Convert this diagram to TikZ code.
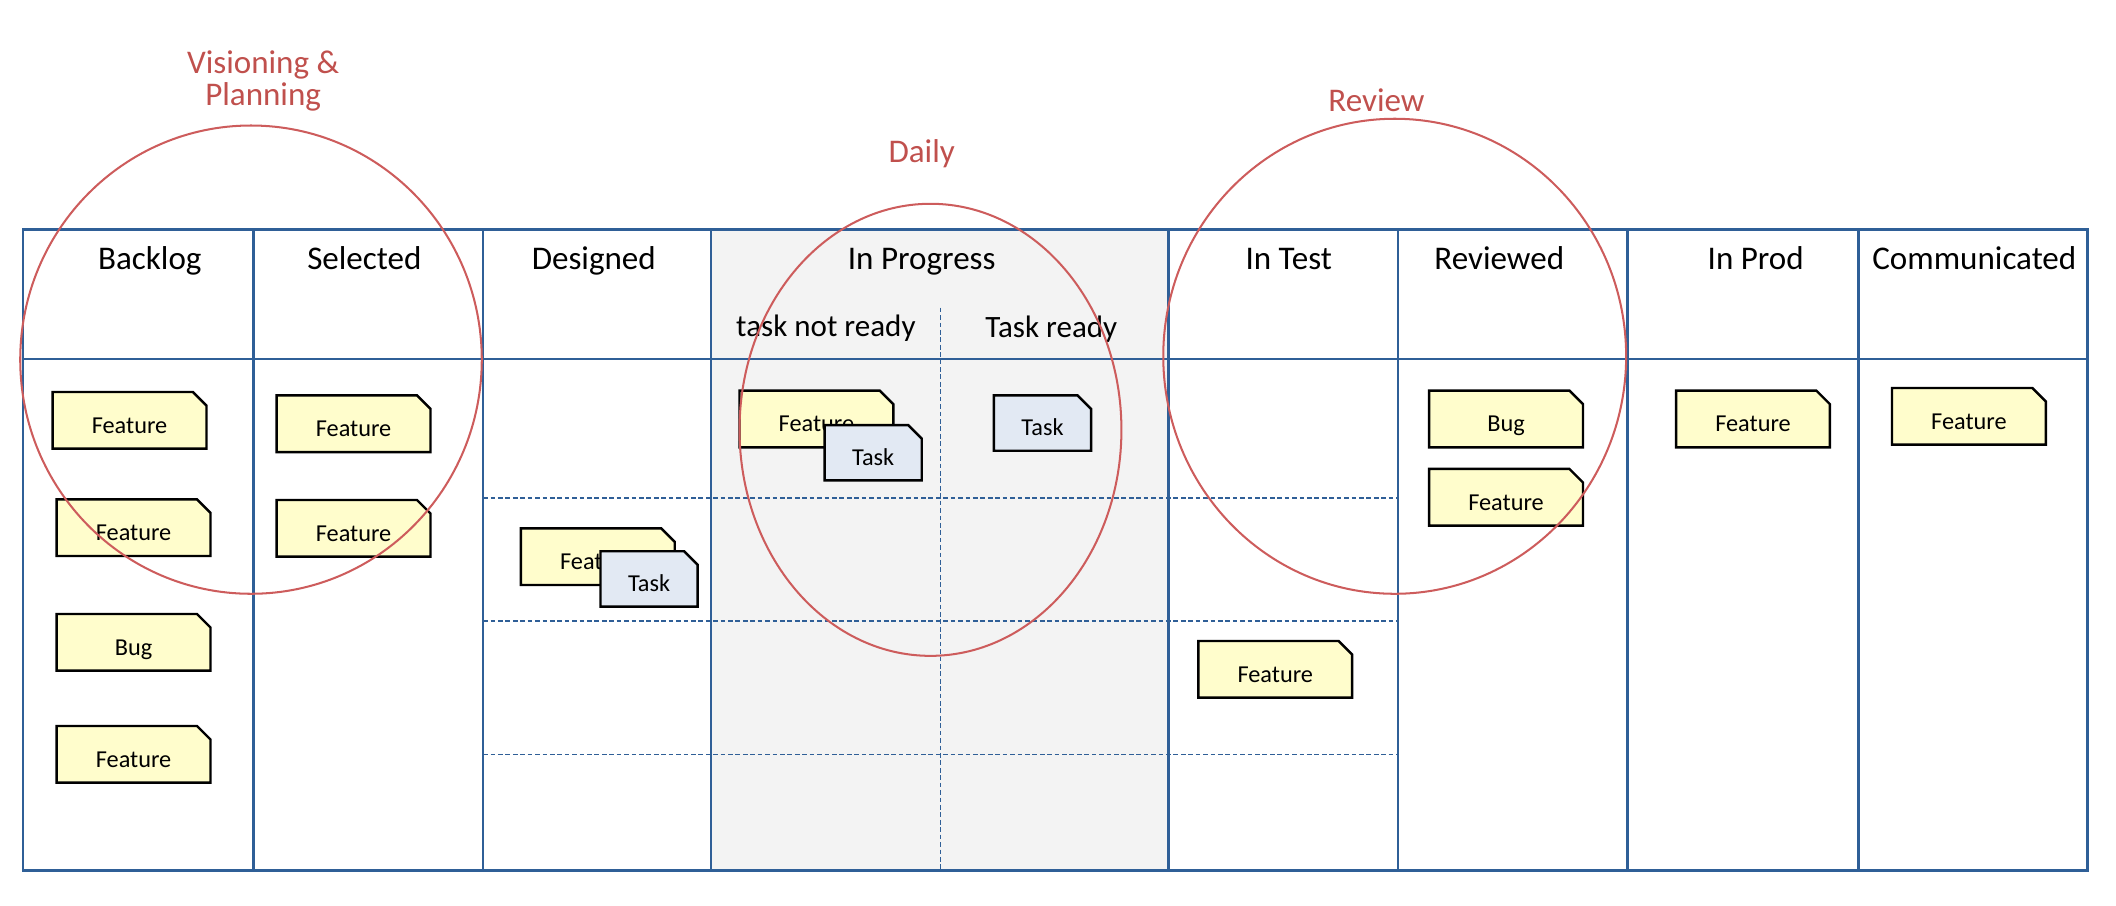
\documentclass[tikz,border=0pt]{standalone}
\usepackage{fontspec}
\setmainfont{Carlito}
\usetikzlibrary{shapes.misc,shapes.geometric}
\definecolor{boardblue}{HTML}{2F5F97}
\definecolor{ringred}{HTML}{CD5C5C}
\definecolor{labelred}{HTML}{C0504D}
\definecolor{cardyellow}{HTML}{FFFDCC}
\definecolor{taskblue}{HTML}{E2E9F3}
\definecolor{wipgray}{HTML}{F3F3F3}
\begin{document}
\begin{tikzpicture}[x=1pt,y=-1pt,
  board/.style={boardblue,line width=1.9pt},
  lane/.style={boardblue,line width=1.2pt,dash pattern=on 3.5pt off 2pt},
  colhead/.style={font=\fontsize{24.5}{28}\selectfont,inner sep=0,anchor=base},
  subhead/.style={font=\fontsize{23}{27}\selectfont,inner sep=0,anchor=base},
  ring/.style={ellipse,draw=ringred,line width=1.5pt,inner sep=0},
  ringlabel/.style={text=labelred,font=\fontsize{24.5}{24}\selectfont,align=center,inner sep=0},
  cardbase/.style={chamfered rectangle,chamfered rectangle corners=north east,
    chamfered rectangle sep=5pt,draw=black,line width=1.8pt,inner sep=0,
    text height=19pt,text depth=0pt,
    font=\fontsize{18}{20}\selectfont},
  feat/.style={cardbase,fill=cardyellow,minimum width=114pt,minimum height=42pt},
  task/.style={cardbase,fill=taskblue,minimum width=72pt,minimum height=41pt}]
\useasboundingbox (0,0) rectangle (1568,671);
% In Progress background
\fill[wipgray] (527,170) rectangle (866,645);
% dashed swimlanes
\draw[lane] (358,369) -- (1036,369);
\draw[lane] (358,460) -- (1036,460);
\draw[lane] (358,559) -- (1036,559);
\draw[lane] (697,228) -- (697,645);
% board frame
\draw[board] (17,170) rectangle (1547,645);
\draw[board] (17,266) -- (1547,266);
\foreach \x in {188,358,527,866,1036,1206,1377}
  \draw[board] (\x,170) -- (\x,645);
% column headers
\node[colhead] (hBacklog) at (111,200) {Backlog};
\node[colhead] (hSelected) at (270,200) {Selected};
\node[colhead] (hDesigned) at (440,200) {Designed};
\node[colhead] (hInProgress) at (683,200) {In Progress};
\node[colhead] (hInTest) at (955,200) {In Test};
\node[colhead] (hReviewed) at (1111,200) {Reviewed};
\node[colhead] (hInProd) at (1301,200) {In Prod};
\node[colhead] (hCommunicated) at (1463,200) {Communicated};
\node[subhead] (hNotReady) at (612,249) {task not ready};
\node[subhead] (hReady) at (779,250) {Task ready};
% cards
\node[feat] (b1) at (96,311.5) {Feature};
\node[feat] (b2) at (99,391) {Feature};
\node[feat] (b3) at (99,476) {Bug};
\node[feat] (b4) at (99,559) {Feature};
\node[feat] (s1) at (262,314) {Feature};
\node[feat] (s2) at (262,391.5) {Feature};
\node[feat] (d1) at (443,412.5) {Feature};
\node[task] (d2) at (481,429) {Task};
\node[feat] (p1) at (605,310.5) {Feature};
\node[task] (p2) at (647,335.5) {Task};
\node[task] (p3) at (772.5,313.5) {Task};
\node[feat] (t1) at (945,496) {Feature};
\node[feat] (r1) at (1116,310.5) {Bug};
\node[feat] (r2) at (1116,368.5) {Feature};
\node[feat] (i1) at (1299,310.5) {Feature};
\node[feat] (c1) at (1459,308.5) {Feature};
% ceremony rings
\node[ring,minimum width=342pt,minimum height=347pt] (ringPlan) at (186,266.5) {};
\node[ring,minimum width=283pt,minimum height=335pt] (ringDaily) at (689.5,318.5) {};
\node[ring,minimum width=343pt,minimum height=352pt] (ringReview) at (1033.5,264) {};
\node[ringlabel] (lPlan) at (195,60) {Visioning \&\\Planning};
\node[ringlabel] (lDaily) at (683,114) {Daily};
\node[ringlabel] (lReview) at (1020,74) {Review};
\end{tikzpicture}
\end{document}
